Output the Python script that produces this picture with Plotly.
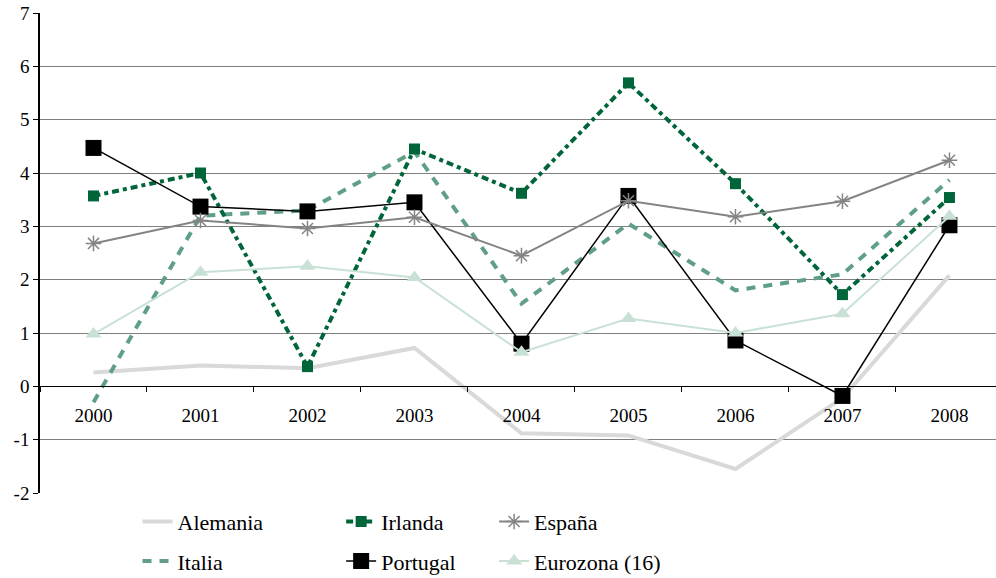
import plotly.graph_objects as go

# Years on the category axis
years = ["2000", "2001", "2002", "2003", "2004", "2005", "2006", "2007", "2008"]

# Annual values per country / area
alemania = [0.26, 0.39, 0.34, 0.72, -0.88, -0.92, -1.55, -0.22, 2.08]
irlanda = [3.57, 4.00, 0.37, 4.45, 3.62, 5.69, 3.80, 1.72, 3.54]
espana = [2.68, 3.11, 2.96, 3.17, 2.45, 3.48, 3.18, 3.47, 4.24]
italia = [-0.30, 3.20, 3.30, 4.40, 1.55, 3.05, 1.80, 2.10, 3.87]
portugal = [4.47, 3.37, 3.28, 3.45, 0.80, 3.57, 0.86, -0.18, 3.02]
eurozona = [0.98, 2.14, 2.25, 2.04, 0.64, 1.27, 1.00, 1.36, 3.19]

y_ticks = [-2, -1, 0, 1, 2, 3, 4, 5, 6, 7]
y_tick_text = [str(v) for v in y_ticks]

FONT = "Liberation Serif"

fig = go.Figure()

fig.add_trace(go.Scatter(
    x=years, y=alemania, name="Alemania", mode="lines",
    line=dict(color="#d9d9d9", width=4),
    legend="legend", legendgroup="a", legendrank=1,
))
fig.add_trace(go.Scatter(
    x=years, y=italia, name="Italia", mode="lines",
    line=dict(color="#5f9f85", width=4, dash="9px,8px"),
    legend="legend", legendgroup="d", legendrank=2,
))
fig.add_trace(go.Scatter(
    x=years, y=irlanda, name="Irlanda", mode="lines+markers",
    line=dict(color="#00663a", width=4, dash="7px,4px,4px,4px"),
    marker=dict(symbol="square", size=11, color="#00663a"),
    legend="legend2", legendgroup="b", legendrank=1,
))
fig.add_trace(go.Scatter(
    x=years, y=portugal, name="Portugal", mode="lines+markers",
    line=dict(color="#000000", width=1.5),
    marker=dict(symbol="square", size=16, color="#000000"),
    legend="legend2", legendgroup="e", legendrank=2,
))
fig.add_trace(go.Scatter(
    x=years, y=espana, name="España", mode="lines+markers",
    line=dict(color="#848484", width=2),
    marker=dict(symbol="asterisk-open", size=13,
                line=dict(color="#848484", width=1.5)),
    legend="legend3", legendgroup="c", legendrank=1,
))
fig.add_trace(go.Scatter(
    x=years, y=eurozona, name="Eurozona (16)", mode="lines+markers",
    line=dict(color="#c9e1d5", width=2),
    marker=dict(symbol="triangle-up", size=14, color="#c9e1d5"),
    legend="legend3", legendgroup="f", legendrank=2,
))

legend_common = dict(
    orientation="v", xanchor="left", yanchor="top", y=-0.016,
    font=dict(family=FONT, size=22, color="#000000"),
    bgcolor="rgba(0,0,0,0)", tracegroupgap=8,
    itemwidth=30,
)

fig.update_layout(
    width=996, height=578,
    margin=dict(l=40, r=0, t=13, b=85, autoexpand=False),
    paper_bgcolor="white", plot_bgcolor="white",
    font=dict(family=FONT, size=19, color="#000000"),
    showlegend=True,
    legend=dict(x=0.102, **legend_common),
    legend2=dict(x=0.315, **legend_common),
    legend3=dict(x=0.475, **legend_common),
    xaxis=dict(
        type="category", range=[-0.5, 8.435],
        anchor="free", position=0.223,
        showline=True, linecolor="#000000", linewidth=1,
        showgrid=False, zeroline=False,
        ticks="outside", tickson="boundaries", ticklen=5,
        tickcolor="#000000", tickwidth=1,
        ticklabelstandoff=12,
        tickfont=dict(family=FONT, size=19, color="#000000"),
    ),
    yaxis=dict(
        range=[-2, 7], tickvals=y_ticks, ticktext=y_tick_text,
        showline=True, linecolor="#000000", linewidth=1.5,
        showgrid=True, gridcolor="#7f7f7f", gridwidth=1,
        zeroline=True, zerolinecolor="#000000", zerolinewidth=1,
        ticks="outside", ticklen=5, tickcolor="#000000",
        tickfont=dict(family=FONT, size=19, color="#000000"),
    ),
)

fig.write_html("out.html")
